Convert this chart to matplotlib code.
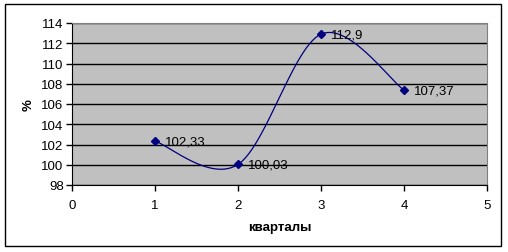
import numpy as np
import matplotlib
matplotlib.use("Agg")
import matplotlib.pyplot as plt
from matplotlib.patches import Rectangle

quarters = [1, 2, 3, 4]
values = [102.33, 100.03, 112.9, 107.37]
x_ticks = [0, 1, 2, 3, 4, 5]
y_ticks = [98, 100, 102, 104, 106, 108, 110, 112, 114]
x_label = "кварталы"
y_label = "%"

plt.rcParams['font.family'] = ['Liberation Sans', 'DejaVu Sans']
FS = 9.5

def smooth(xs, ys, n=60):
    # Excel-like smoothed line: cubic Bezier segments with Catmull-Rom tangents (1/6)
    P = np.column_stack([xs, ys]).astype(float)
    out = []
    m = len(P)
    for i in range(m - 1):
        p0, p3 = P[i], P[i + 1]
        prev = P[i - 1] if i > 0 else P[i]
        nxt = P[i + 2] if i + 2 < m else P[i + 1]
        c1 = p0 + (p3 - prev) / 6.0
        c2 = p3 - (nxt - p0) / 6.0
        t = np.linspace(0, 1, n)[:, None]
        seg = ((1 - t) ** 3) * p0 + 3 * ((1 - t) ** 2) * t * c1 + 3 * (1 - t) * t ** 2 * c2 + t ** 3 * p3
        out.append(seg if i == 0 else seg[1:])
    S = np.vstack(out)
    return S[:, 0], S[:, 1]

fig = plt.figure(figsize=(5.08, 2.53), dpi=100)
fig.patch.set_facecolor('white')
fig.add_artist(Rectangle((5 / 508, 1 - 247 / 253), 496 / 508, 242 / 253,
                         transform=fig.transFigure, fill=False, edgecolor='black', linewidth=1))

ax = fig.add_axes([72 / 508, 1 - 186 / 253, 415 / 508, 162 / 253])
ax.set_facecolor('#C0C0C0')
ax.set_xlim(0, 5)
ax.set_ylim(98, 114)
ax.set_xticks(x_ticks)
ax.set_yticks(y_ticks)
ax.yaxis.grid(True, color='black', linewidth=1)
ax.set_axisbelow(True)
for s in ['top', 'right']:
    ax.spines[s].set_color('#808080')
for s in ['left', 'bottom']:
    ax.spines[s].set_color('black')
ax.tick_params(axis='both', direction='out', length=4, width=1, labelsize=FS, pad=2)
ax.tick_params(axis='x', pad=6)

sx, sy = smooth(quarters, values)
ax.plot(sx, sy, color='#000080', linewidth=0.9, clip_on=False)
ax.plot(quarters, values, linestyle='none', marker='D', markersize=4.5,
        color='#000080', clip_on=False, zorder=5)
for q, v in zip(quarters, values):
    ax.annotate(f"{v:g}".replace('.', ','), (q, v), xytext=(7, 0), textcoords='offset points',
                va='center', ha='left', fontsize=FS, color='black')

ax.set_xlabel(x_label, fontsize=FS, fontweight='bold', labelpad=7)
ax.set_ylabel(y_label, fontsize=FS, fontweight='bold', labelpad=5)

fig.savefig('out.png', dpi=100)
